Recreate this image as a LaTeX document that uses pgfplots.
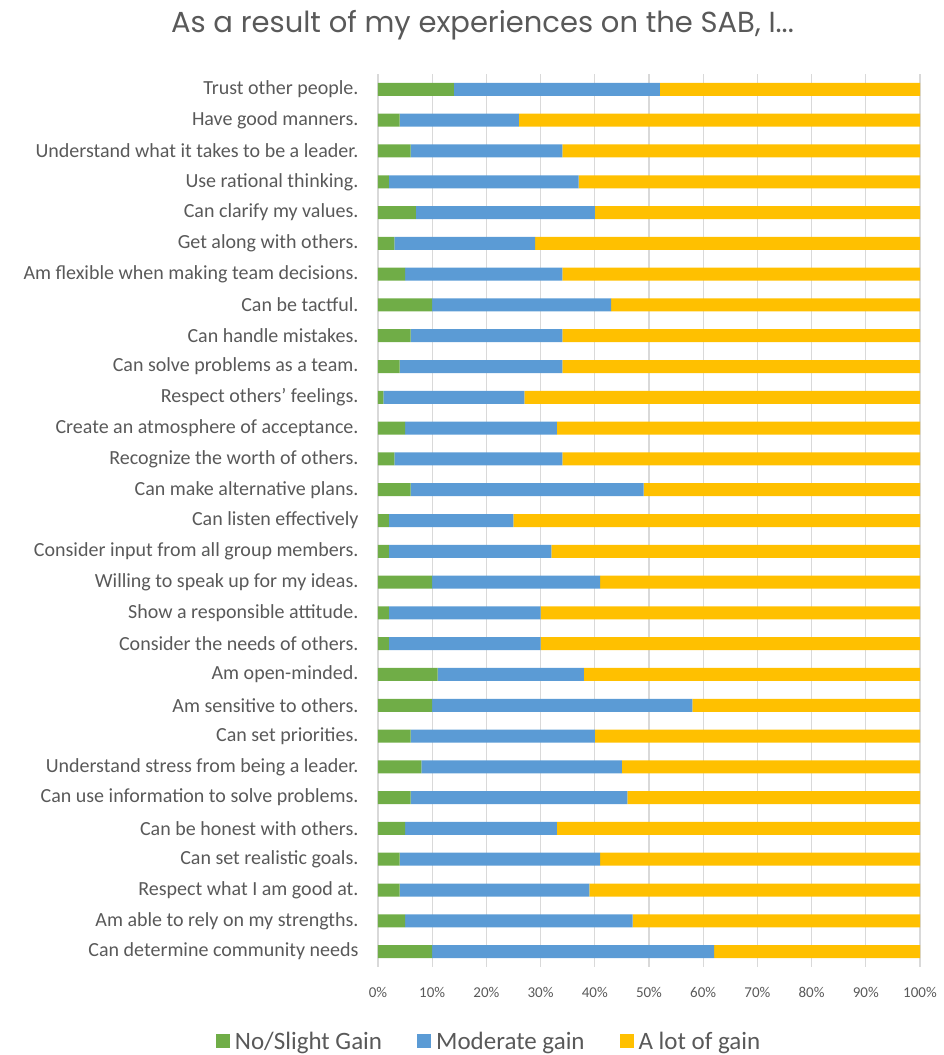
\documentclass[border=0pt]{standalone}
\usepackage{fontspec}
\setmainfont{Carlito}
\newfontfamily\titlefont{Poppins}
\usepackage{pgfplots}
\usepackage{pgfplotstable}
\pgfplotsset{compat=1.18}
\definecolor{cgreen}{HTML}{70AD47}
\definecolor{cblue}{HTML}{5B9BD5}
\definecolor{cyellow}{HTML}{FFC000}
\definecolor{ctext}{HTML}{595959}
\definecolor{cgrid}{HTML}{D9D9D9}
\pgfplotstableread{
idx slight moderate alot
0 14 38 48
1 4 22 74
2 6 28 66
3 2 35 63
4 7 33 60
5 3 26 71
6 5 29 66
7 10 33 57
8 6 28 66
9 4 30 66
10 1 26 73
11 5 28 67
12 3 31 66
13 6 43 51
14 2 23 75
15 2 30 68
16 10 31 59
17 2 28 70
18 2 28 70
19 11 27 62
20 10 48 42
21 6 34 60
22 8 37 55
23 6 40 54
24 5 28 67
25 4 37 59
26 4 35 61
27 5 42 53
28 10 52 38
}\datatable
\begin{document}
\begin{tikzpicture}
\path[use as bounding box] (-378pt,-88pt) rectangle (565pt,967pt);
\begin{axis}[
  scale only axis,
  width=542pt, height=893pt,
  xbar stacked,
  bar width=13pt,
  xmin=0, xmax=100,
  ymin=-0.5, ymax=28.5,
  y dir=reverse,
  axis line style={draw=none},
  major tick length=0pt,
  xmajorgrids,
  grid style={cgrid, line width=1.2pt},
  xtick={0,10,...,100},
  xticklabel={\pgfmathprintnumber{\tick}\%},
  /pgf/number format/assume math mode=true,
  xticklabel style={font=\fontsize{15}{18}\selectfont, text=ctext},
  tick label style={text=ctext},
  x tick label style={yshift=-17pt},
  ytick={0,...,28},
  yticklabels={
    Trust other people.,
    Have good manners.,
    Understand what it takes to be a leader.,
    Use rational thinking.,
    Can clarify my values.,
    Get along with others.,
    Am flexible when making team decisions.,
    Can be tactful.,
    Can handle mistakes.,
    Can solve problems as a team.,
    Respect others’ feelings.,
    Create an atmosphere of acceptance.,
    Recognize the worth of others.,
    Can make alternative plans.,
    Can listen effectively,
    Consider input from all group members.,
    Willing to speak up for my ideas.,
    Show a responsible attitude.,
    Consider the needs of others.,
    Am open-minded.,
    Am sensitive to others.,
    Can set priorities.,
    Understand stress from being a leader.,
    Can use information to solve problems.,
    Can be honest with others.,
    Can set realistic goals.,
    Respect what I am good at.,
    Am able to rely on my strengths.,
    Can determine community needs
  },
  yticklabel style={font=\fontsize{20}{24}\selectfont, text=ctext, xshift=-16pt},
  legend columns=3,
  legend style={
    at={(axis description cs:0.205,-0.083)}, anchor=center,
    draw=none, fill=none,
    font=\fontsize{25}{30}\selectfont, text=ctext,
    /tikz/every odd column/.append style={column sep=3pt},
    /tikz/every even column/.append style={column sep=33pt},
  },
  legend image code/.code={\fill[#1] (0pt,-7pt) rectangle (14pt,7pt);},
  every axis plot/.append style={draw=none},
]
\addplot[fill=cgreen] table[x=slight, y=idx] {\datatable};
\addplot[fill=cblue] table[x=moderate, y=idx] {\datatable};
\addplot[fill=cyellow] table[x=alot, y=idx] {\datatable};
\legend{No/Slight Gain, Moderate gain, A lot of gain}
\end{axis}
\node[font=\titlefont\fontsize{29}{34}\selectfont, text=ctext, anchor=base] at (104.5pt,934pt) {As a result of my experiences on the SAB, I...};
\end{tikzpicture}
\end{document}
